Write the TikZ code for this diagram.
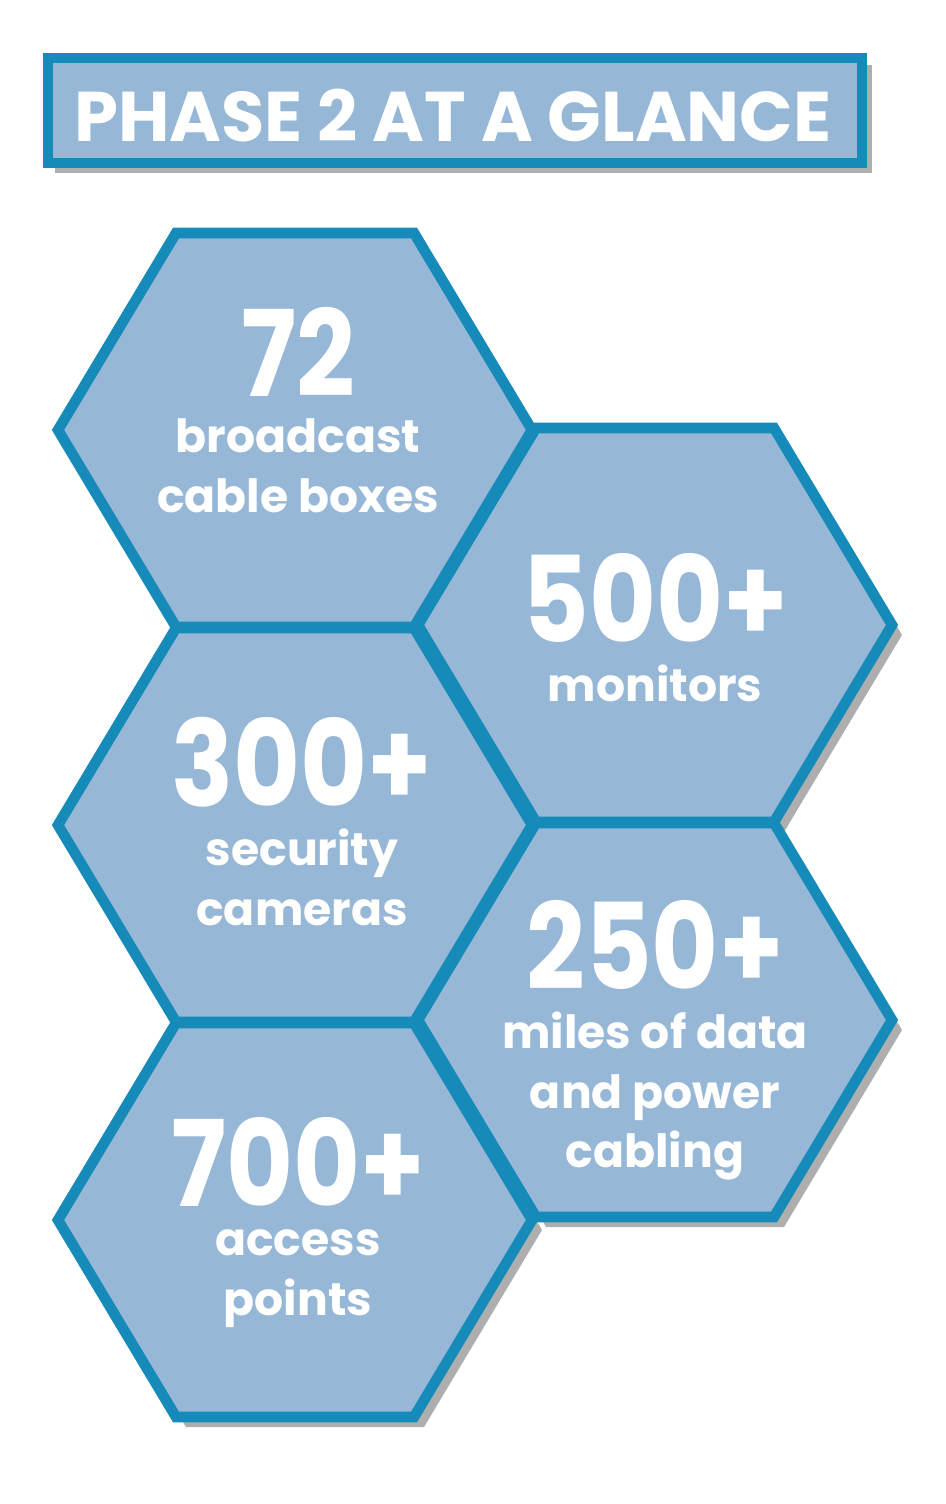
\documentclass[tikz,border=0pt]{standalone}
\usepackage{fontspec}
\setmainfont{Poppins}
\usepackage{xcolor}
\definecolor{hexfill}{RGB}{150,183,214}
\definecolor{hexline}{RGB}{22,139,186}
\tikzset{
  hexcell/.style={fill=hexfill, draw=hexline, line width=3pt, line join=miter},
  hexshade/.style={fill=black!70, opacity=0.45},
  bignum/.style={text=white, font=\fontsize{34}{34}\selectfont\bfseries, xscale=0.86, transform shape, inner sep=0pt},
  smalltxt/.style={text=white, font=\fontsize{13}{17}\selectfont\bfseries, align=center, inner sep=0pt}
}
\newcommand{\hexpath}[2]{(#1-237,#2) -- (#1-119,#2-197) -- (#1+119,#2-197) -- (#1+237,#2) -- (#1+119,#2+197) -- (#1-119,#2+197) -- cycle}
\begin{document}
\begin{tikzpicture}[x=0.01cm, y=-0.01cm]
\useasboundingbox (0,0) rectangle (945,1504);

% title
\fill[hexshade] (55,65) rectangle (872,173);
\draw[hexcell] (48,58) rectangle (862,163);
\node[text=white, font=\fontsize{20}{20}\selectfont\bfseries] (title) at (453,116) {PHASE 2 AT A GLANCE};

% shadows
\foreach \cx/\cy in {295/430, 655/625, 295/825, 655/1020, 295/1220}{
  \fill[hexshade] \hexpath{\cx+10}{\cy+10};
}
% cells
\foreach \cx/\cy in {295/430, 655/625, 295/825, 655/1020, 295/1220}{
  \draw[hexcell] \hexpath{\cx}{\cy};
}

% texts
\node[bignum] (num72) at (298,352) {72};
\node[smalltxt, anchor=north] (txt72) at (298,418) {broadcast\\cable boxes};

\node[bignum] (num500) at (655,598) {500+};
\node[smalltxt, anchor=north] (txt500) at (655,664) {monitors};

\node[bignum] (num300) at (302,762) {300+};
\node[smalltxt, anchor=north] (txt300) at (302,828) {security\\cameras};

\node[bignum] (num250) at (655,945) {250+};
\node[smalltxt, anchor=north] (txt250) at (655,1011) {miles of data\\and power\\cabling};

\node[bignum] (num700) at (298,1162) {700+};
\node[smalltxt, anchor=north] (txt700) at (298,1229) {access\\points};
\end{tikzpicture}
\end{document}
